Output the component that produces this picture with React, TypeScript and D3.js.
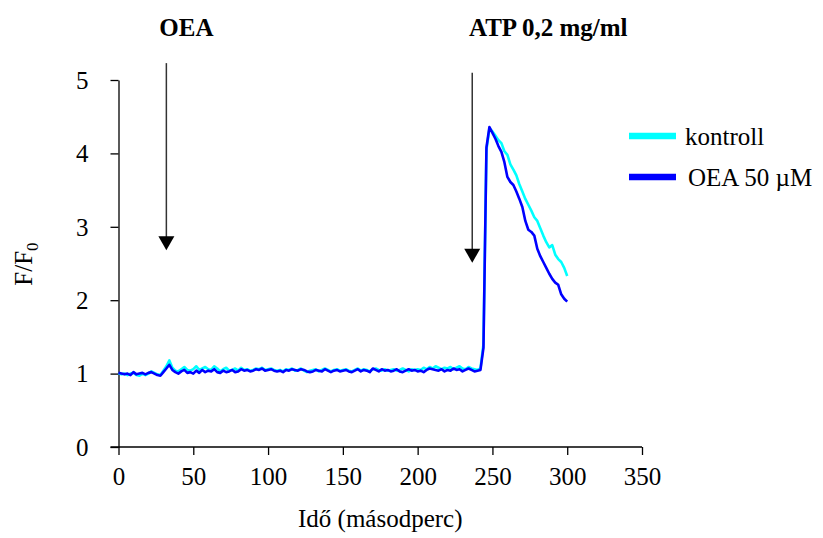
import React, { useRef, useEffect } from 'react';
import * as d3 from 'd3';

// time axis: one sample every 2 s, 0..300 s
const times: number[] = d3.range(0, 302, 2);

// F/F0, kontroll (cyan)
const kontroll: number[] = [
  1.00, 0.99, 1.00, 0.98, 1.00, 1.01, 0.98, 0.97, 1.00, 0.98,
  1.00, 1.03, 1.01, 0.99, 0.98, 1.04, 1.10, 1.18, 1.08, 1.04,
  1.03, 1.06, 1.09, 1.05, 1.04, 1.06, 1.10, 1.05, 1.07, 1.09,
  1.06, 1.05, 1.10, 1.07, 1.03, 1.06, 1.08, 1.04, 1.05, 1.07,
  1.04, 1.08, 1.05, 1.06, 1.04, 1.05, 1.07, 1.06, 1.08, 1.05,
  1.06, 1.07, 1.05, 1.04, 1.05, 1.03, 1.06, 1.05, 1.07, 1.04,
  1.05, 1.07, 1.04, 1.02, 1.04, 1.05, 1.06, 1.03, 1.05, 1.07,
  1.05, 1.03, 1.05, 1.06, 1.04, 1.05, 1.06, 1.04, 1.03, 1.05,
  1.07, 1.04, 1.06, 1.05, 1.03, 1.06, 1.07, 1.05, 1.04, 1.06,
  1.04, 1.05, 1.06, 1.04, 1.05, 1.07, 1.05, 1.03, 1.06, 1.05,
  1.06, 1.05, 1.08, 1.06, 1.09, 1.07, 1.10, 1.08, 1.06, 1.08,
  1.07, 1.09, 1.06, 1.08, 1.10, 1.07, 1.06, 1.09, 1.07, 1.06,
  1.05, 1.07, 1.40, 4.05, 4.34, 4.30, 4.24, 4.18, 4.14, 4.03,
  3.98, 3.85, 3.78, 3.70, 3.58, 3.48, 3.38, 3.30, 3.22, 3.13,
  3.08, 2.98, 2.88, 2.79, 2.72, 2.75, 2.62, 2.56, 2.52, 2.44,
  2.33,
];

// F/F0, OEA 50 µM (blue)
const oea50: number[] = [
  1.01, 1.00, 0.99, 1.00, 0.98, 1.02, 0.99, 1.00, 1.01, 0.99,
  1.01, 1.02, 1.00, 0.98, 0.97, 1.02, 1.07, 1.12, 1.05, 1.02,
  1.00, 1.03, 1.05, 1.01, 1.02, 1.00, 1.04, 1.01, 1.05, 1.02,
  1.04, 1.03, 1.06, 1.02, 1.01, 1.04, 1.02, 1.03, 1.05, 1.02,
  1.03, 1.06, 1.04, 1.05, 1.03, 1.04, 1.06, 1.05, 1.07, 1.04,
  1.05, 1.06, 1.04, 1.03, 1.04, 1.02, 1.05, 1.04, 1.06, 1.05,
  1.04, 1.06, 1.05, 1.03, 1.02, 1.03, 1.05, 1.04, 1.03, 1.06,
  1.04, 1.02, 1.04, 1.05, 1.03, 1.04, 1.05, 1.03, 1.02, 1.04,
  1.06, 1.03, 1.05, 1.04, 1.02, 1.07, 1.05, 1.03, 1.06, 1.04,
  1.05, 1.03, 1.04, 1.06, 1.03, 1.02, 1.04, 1.06, 1.04, 1.05,
  1.03, 1.04, 1.02, 1.05, 1.07, 1.06, 1.05, 1.04, 1.06, 1.03,
  1.05, 1.04, 1.07, 1.05, 1.06, 1.03, 1.05, 1.07, 1.05, 1.03,
  1.04, 1.05, 1.35, 4.08, 4.36, 4.28, 4.20, 4.10, 4.02, 3.88,
  3.68, 3.61, 3.57, 3.48, 3.38, 3.27, 3.08, 2.96, 2.93, 2.88,
  2.70, 2.60, 2.52, 2.44, 2.36, 2.29, 2.24, 2.21, 2.08, 2.02,
  1.98,
];

const xTicks = [0, 50, 100, 150, 200, 250, 300, 350];
const yTicks = [0, 1, 2, 3, 4, 5];

const seriesNames = ['kontroll', 'OEA 50 µM'];
const seriesColors = ['#00FFFF', '#0000FF'];

// arrows: label, time, top value, tip value
const arrowLabels = ['OEA', 'ATP 0,2 mg/ml'];
const arrowTimes = [32, 236.5];
const arrowTops = [5.23, 5.1];
const arrowTips = [2.68, 2.51];

const W = 823;
const H = 538;
const FONT = 'Liberation Serif, Times New Roman, Times, DejaVu Serif, serif';

const App = () => {
  const svgRef = useRef<SVGSVGElement | null>(null);

  useEffect(() => {
    if (!svgRef.current) return;
    const svg = d3.select(svgRef.current);
    svg.selectAll('*').remove();

    const x = d3.scaleLinear().domain([0, 350]).range([118.5, 642]);
    const y = d3.scaleLinear().domain([0, 5]).range([447, 80]);

    // axes
    const xAxis = svg.append('g')
      .attr('transform', `translate(0,${y(0)})`)
      .call(d3.axisBottom(x).tickValues(xTicks).tickFormat(d3.format('d')).tickSize(8).tickSizeOuter(0).tickPadding(6));
    xAxis.select('.domain').attr('d', `M${x(0) - 8},0H${x(350)}`);

    const yAxis = svg.append('g')
      .attr('transform', `translate(${x(0)},0)`)
      .call(d3.axisLeft(y).tickValues(yTicks).tickFormat(d3.format('d')).tickSize(8).tickSizeOuter(0).tickPadding(22));

    [xAxis, yAxis].forEach(g => {
      g.attr('font-family', null).attr('font-size', null);
      g.selectAll('line').attr('stroke', '#000').attr('stroke-width', 1.3);
      g.select('.domain').attr('stroke', '#000').attr('stroke-width', 1.3);
      g.selectAll('text')
        .attr('fill', '#000')
        .style('font-family', FONT)
        .style('font-size', '25px');
    });
    xAxis.selectAll('text').attr('dy', '0.95em');
    yAxis.selectAll('text').attr('dy', '0.33em');

    // lines
    const line = d3.line<number>()
      .x((_, i) => x(times[i]))
      .y(d => y(d));

    [kontroll, oea50].forEach((vals, k) => {
      svg.append('path')
        .datum(vals)
        .attr('fill', 'none')
        .attr('stroke', seriesColors[k])
        .attr('stroke-width', 2.6)
        .attr('stroke-linejoin', 'round')
        .attr('d', line);
    });

    // arrows + labels
    arrowLabels.forEach((label, i) => {
      const ax = x(arrowTimes[i]);
      const top = y(arrowTops[i]);
      const tip = y(arrowTips[i]);
      svg.append('line')
        .attr('x1', ax).attr('x2', ax)
        .attr('y1', top).attr('y2', tip - 12)
        .attr('stroke', '#333')
        .attr('stroke-width', 1.5);
      svg.append('path')
        .attr('d', `M${ax - 8},${tip - 14}L${ax + 8},${tip - 14}L${ax},${tip}Z`)
        .attr('fill', '#000');
      svg.append('text')
        .attr('x', i === 0 ? ax + 20 : ax + 76)
        .attr('y', 36)
        .attr('text-anchor', 'middle')
        .style('font-family', FONT)
        .attr('font-weight', 'bold')
        .attr('font-size', 25)
        .attr('fill', '#000')
        .text(label);
    });

    // legend
    seriesNames.forEach((name, i) => {
      const ly = 136 + i * 41;
      svg.append('line')
        .attr('x1', 629).attr('x2', 676)
        .attr('y1', ly).attr('y2', ly)
        .attr('stroke', seriesColors[i])
        .attr('stroke-width', 6.5);
      svg.append('text')
        .attr('x', i === 0 ? 685 : 688)
        .attr('y', ly + 9)
        .style('font-family', FONT)
        .attr('font-size', 25)
        .attr('fill', '#000')
        .text(name);
    });

    // axis titles
    svg.append('text')
      .attr('x', x(175))
      .attr('y', 527)
      .attr('text-anchor', 'middle')
      .style('font-family', FONT)
      .attr('font-size', 25)
      .attr('fill', '#000')
      .text('Idő (másodperc)');

    const yl = svg.append('text')
      .attr('transform', 'translate(32,264) rotate(-90)')
      .attr('text-anchor', 'middle')
      .style('font-family', FONT)
      .attr('font-size', 25)
      .attr('fill', '#000');
    yl.append('tspan').text('F/F');
    yl.append('tspan').attr('dy', 6).attr('font-size', 17).text('0');
  }, []);

  return (
    <div style={{ position: 'absolute', left: 0, top: 0, width: W, height: H, background: '#fff' }}>
      <svg ref={svgRef} width={W} height={H} style={{ display: 'block', fontFamily: FONT }}></svg>
    </div>
  );
};

export default App;
